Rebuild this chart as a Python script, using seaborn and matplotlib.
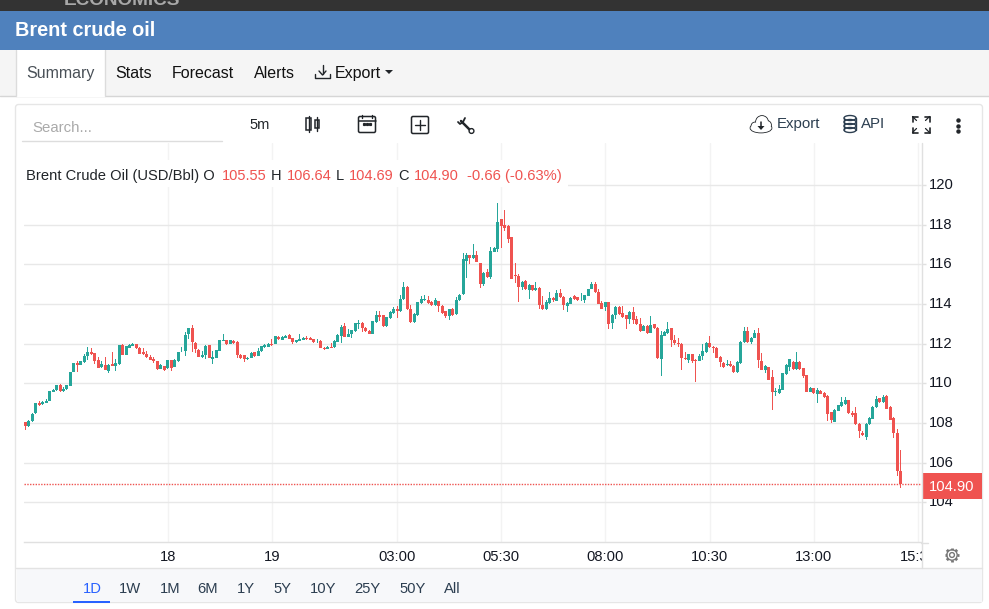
import matplotlib
matplotlib.use("Agg")
import matplotlib.pyplot as plt
import numpy as np
import pandas as pd
import seaborn as sns
from matplotlib.patches import Circle, FancyBboxPatch, Rectangle, Ellipse

# Brent crude 5 minute candles
opens = [108.05,107.86,108.07,108.49,109.00,108.93,109.00,109.10,109.57,109.65,
         109.89,109.60,109.70,109.86,110.57,111.04,110.92,111.07,111.37,111.56,
         111.51,111.16,110.82,110.90,110.60,110.95,110.87,110.95,111.95,111.43,
         111.78,111.88,112.00,111.80,111.56,111.46,111.31,111.20,111.10,110.73,
         110.85,110.75,111.15,110.82,111.12,111.63,111.63,112.47,112.78,112.05,
         111.70,111.31,111.43,111.92,111.22,111.27,111.63,112.15,112.17,111.98,
         112.15,112.10,111.44,111.41,111.20,111.27,111.56,111.37,111.63,111.83,
         111.85,111.98,111.98,112.33,112.18,112.28,112.43,112.27,112.08,112.15,
         112.18,112.27,112.28,112.22,112.13,112.12,111.80,111.73,111.85,111.82,
         112.08,112.38,112.87,112.33,112.47,112.62,113.00,113.02,112.80,112.65,
         112.48,113.08,113.42,113.42,112.90,113.27,113.53,113.77,113.63,114.23,
         114.87,113.77,113.08,113.42,114.03,114.22,114.20,114.12,113.93,114.15,
         113.92,113.62,113.38,113.72,113.47,114.18,114.48,116.17,116.47,116.32,
         116.47,116.07,115.03,115.62,115.37,116.63,116.78,118.27,117.97,117.93,
         117.37,115.47,115.42,114.83,115.17,114.72,114.95,114.68,114.82,113.95,
         113.72,114.03,114.32,114.17,114.55,114.37,113.88,114.02,114.40,114.35,
         114.18,114.18,114.42,114.75,115.03,114.62,114.05,113.83,114.10,113.02,
         113.45,113.83,113.52,113.42,113.23,113.57,113.22,113.01,112.64,112.91,
         112.55,112.99,112.81,111.21,112.40,112.52,112.77,112.20,112.05,112.00,
         111.28,111.19,111.48,111.19,111.13,111.36,111.56,112.05,111.85,111.80,
         111.33,111.03,110.91,110.99,110.89,110.57,111.01,112.07,112.61,112.07,
         112.29,112.55,111.14,110.67,110.82,110.29,109.55,109.50,109.66,110.45,
         110.82,111.09,110.70,111.09,110.77,110.40,109.56,109.75,109.45,109.63,
         109.53,109.38,108.54,108.04,108.62,108.83,108.94,109.13,108.52,108.51,
         107.95,107.50,107.30,107.92,108.20,108.78,109.26,109.03,109.36,108.81,
         108.27,107.50,105.55]
closes = [107.83,108.07,108.46,109.01,108.88,109.03,109.08,109.59,109.65,109.92,
          109.59,109.69,109.92,110.58,111.04,110.92,111.10,111.39,111.56,111.46,
          111.12,110.77,110.95,110.67,110.94,110.87,111.00,111.92,111.43,111.86,
          111.92,112.00,111.80,111.48,111.46,111.31,111.17,111.10,110.70,110.90,
          110.65,111.15,110.75,111.17,111.60,111.65,112.45,112.78,112.08,111.73,
          111.32,111.44,111.90,111.27,111.30,111.66,112.17,112.17,111.97,112.17,
          112.03,111.43,111.27,111.20,111.29,111.54,111.37,111.65,111.87,111.93,
          112.00,111.93,112.37,112.22,112.35,112.38,112.23,112.07,112.18,112.22,
          112.27,112.23,112.18,112.08,112.15,111.78,111.72,111.85,111.78,112.15,
          112.42,112.82,112.33,112.50,112.68,113.02,113.03,112.77,112.62,112.48,
          113.13,113.42,113.33,112.88,113.32,113.58,113.72,113.63,114.27,114.85,
          113.75,113.08,113.47,114.08,114.27,114.27,114.03,113.97,114.20,113.88,
          113.53,113.38,113.72,113.43,114.20,114.47,116.27,116.47,116.32,116.47,
          116.13,115.03,115.57,115.35,116.67,116.82,118.12,117.93,117.85,117.28,
          115.28,115.42,114.83,115.12,114.73,114.97,114.72,114.82,113.95,113.73,
          114.12,114.32,114.18,114.57,114.33,113.93,114.07,114.32,114.27,114.18,
          114.20,114.43,114.75,115.02,114.58,114.02,113.77,114.10,112.98,113.45,
          113.87,113.47,113.32,113.25,113.60,113.20,112.98,112.61,112.91,112.54,
          112.96,112.77,111.26,112.44,112.60,112.76,112.17,112.03,111.98,111.26,
          111.24,111.48,111.14,111.11,111.39,111.65,112.05,111.82,111.76,111.29,
          111.06,110.84,110.97,110.86,110.55,111.09,112.10,112.66,112.07,112.29,
          112.55,111.16,110.67,110.89,110.18,109.58,109.62,109.72,110.50,110.94,
          111.22,110.70,111.07,110.70,110.34,109.56,109.77,109.50,109.66,109.46,
          109.30,108.47,108.15,108.67,108.88,109.03,109.14,108.52,108.41,107.92,
          107.57,107.37,107.95,108.27,108.81,109.21,109.03,109.33,108.72,108.15,
          107.47,105.55,104.90]
highs = [108.05,108.12,108.49,109.01,109.08,109.10,109.18,109.59,109.70,109.92,
         109.95,109.79,109.92,110.58,111.04,111.10,111.10,111.46,111.81,111.76,
         111.53,111.30,111.14,111.30,110.96,111.56,111.20,111.92,111.97,111.88,
         111.97,112.02,112.00,111.82,111.76,111.63,111.41,111.31,111.12,110.95,
         110.87,111.17,111.17,111.20,111.60,111.85,112.60,112.80,112.93,112.07,
         111.75,111.65,111.92,111.95,111.65,111.68,112.19,112.47,112.20,112.20,
         112.20,112.12,111.46,111.44,111.34,111.56,111.58,111.76,111.90,111.97,
         112.03,112.22,112.39,112.38,112.37,112.45,112.47,112.29,112.20,112.47,
         112.32,112.37,112.33,112.25,112.22,112.20,111.85,111.87,112.05,112.17,
         112.50,112.92,113.02,112.75,112.70,113.03,113.17,113.08,112.82,112.67,
         113.15,113.65,113.65,113.44,113.34,113.65,113.83,113.90,114.47,115.10,
         114.89,113.95,113.55,114.10,114.42,114.47,114.42,114.14,114.30,114.17,
         113.94,113.64,113.74,113.82,114.35,114.49,116.55,116.58,116.49,117.02,
         116.67,116.09,115.59,115.75,116.85,116.88,119.07,118.29,118.72,117.97,
         117.39,116.08,115.50,115.14,115.22,114.99,114.97,115.12,114.84,114.38,
         114.18,114.62,114.34,114.72,114.77,114.39,114.09,114.35,114.47,114.37,
         114.55,114.45,114.77,115.13,115.12,114.75,114.15,114.12,114.12,113.47,
         113.89,113.88,113.92,113.44,113.62,113.87,113.38,113.29,112.93,112.93,
         113.41,113.01,112.83,112.61,112.62,113.11,112.79,112.44,112.29,112.02,
         111.56,111.50,111.50,111.21,111.46,111.98,112.07,112.37,111.87,111.85,
         111.35,111.05,111.19,111.13,110.91,111.11,112.12,112.85,112.85,112.31,
         112.71,112.77,111.55,110.91,110.84,110.66,109.78,109.93,110.52,110.96,
         111.24,111.14,111.58,111.14,110.79,110.42,109.83,109.77,109.75,109.65,
         109.58,109.40,108.56,108.69,108.90,109.33,109.33,109.15,108.62,108.81,
         107.97,107.57,107.97,108.29,108.83,109.36,109.28,109.41,109.41,108.83,
         108.29,107.68,106.64]
lows = [107.66,107.80,108.02,108.45,108.83,108.88,108.98,109.08,109.55,109.63,
        109.57,109.55,109.68,109.84,110.55,110.57,110.90,111.04,111.16,111.40,
        110.97,110.75,110.77,110.65,110.50,110.85,110.60,110.93,111.41,111.41,
        111.76,111.86,111.72,111.46,111.44,111.29,111.15,111.02,110.65,110.70,
        110.62,110.73,110.63,110.80,111.05,111.60,111.38,112.25,111.56,111.55,
        111.30,111.29,111.22,111.25,110.95,111.25,111.61,112.13,111.92,111.96,
        112.00,111.26,111.22,111.07,111.15,111.25,111.30,111.35,111.60,111.80,
        111.82,111.88,111.96,112.18,112.16,112.26,112.21,111.98,112.03,112.13,
        112.16,112.20,112.16,112.05,112.03,111.76,111.67,111.71,111.76,111.80,
        112.06,112.03,112.31,112.31,112.30,112.60,112.75,112.60,112.60,112.46,
        112.46,113.06,113.13,112.86,112.85,113.25,113.51,113.27,113.58,114.21,
        113.70,113.06,113.06,113.37,114.01,114.17,114.01,113.88,113.91,113.57,
        113.50,113.27,113.18,113.38,113.45,114.16,114.46,115.32,116.03,116.27,
        116.11,114.78,114.92,115.33,115.27,116.61,116.62,116.83,117.68,117.08,
        115.26,115.07,114.08,114.68,114.71,114.23,114.65,114.66,113.72,113.71,
        113.70,114.01,114.12,114.15,114.31,113.67,113.58,114.00,114.20,114.16,
        114.16,114.07,114.40,114.73,114.56,114.00,113.73,113.63,112.72,112.72,
        113.25,113.45,113.30,112.72,112.98,113.00,112.96,112.59,112.62,112.50,
        112.53,112.74,111.24,110.35,112.38,112.50,111.85,111.95,111.82,110.69,
        111.19,111.00,111.00,110.08,111.11,111.19,111.54,111.80,111.53,111.27,
        110.84,110.79,110.89,110.84,110.53,110.52,110.99,112.05,112.05,112.00,
        112.27,110.75,110.65,110.52,110.16,108.64,109.36,109.48,109.64,110.43,
        110.64,110.68,110.68,110.68,110.27,109.54,109.54,109.48,108.98,109.44,
        109.28,108.10,107.98,108.02,108.60,108.81,108.92,108.45,108.32,107.90,
        107.22,107.35,107.12,107.90,108.18,108.76,109.01,109.01,108.70,108.13,
        107.22,105.30,104.69]

price_ticks = [104, 106, 108, 110, 112, 114, 116, 118, 120]
time_ticks = [41, 71, 107, 137, 167, 197, 227, 257]
time_labels = ["18", "19", "03:00", "05:30", "08:00", "10:30", "13:00", "15:30"]
range_labels = ["1D", "1W", "1M", "6M", "1Y", "5Y", "10Y", "25Y", "50Y", "All"]

UP = "#26a69a"
DOWN = "#ef5350"
INK = "#212529"

sns.set_theme(style="white")
plt.rcParams["font.family"] = ["Liberation Sans", "DejaVu Sans"]

W, H = 989, 609
fig = plt.figure(figsize=(W / 100, H / 100), dpi=100, facecolor="white")


def pixel_axes(zorder):
    # full figure axes that work in screen pixels, for the page furniture
    a = fig.add_axes([0, 0, 1, 1], zorder=zorder)
    a.set_xlim(0, W)
    a.set_ylim(H, 0)
    a.axis("off")
    a.patch.set_alpha(0)
    return a


bg = pixel_axes(0)
fg = pixel_axes(2)

# page header and tabs
bg.add_patch(Rectangle((0, 0), W, 11, color="#333333", lw=0))
bg.text(64, 5, "ECONOMICS", color="#a8a8a8", fontsize=13.7, fontweight="bold", va="baseline", clip_on=True)
bg.add_patch(Rectangle((0, 50), W, 46, color="#f5f5f5", lw=0))
bg.plot([0, W], [95.5, 95.5], color="#d6d6d6", lw=1)
bg.add_patch(Rectangle((15.5, 50), 89, 46.5, facecolor="white", lw=0, zorder=2))
bg.plot([15.5, 15.5], [50, 96], color="#dcdcdc", lw=1, zorder=3)
bg.plot([104.5, 104.5], [50, 96], color="#dcdcdc", lw=1, zorder=3)
bg.add_patch(Rectangle((0, 11), W, 39, color="#4f81bd", lw=0, zorder=4))
bg.text(15, 31, "Brent crude oil", color="white", fontsize=14.3, fontweight="bold", va="center", zorder=5)
bg.text(26, 73.5, "Summary", color="#495057", fontsize=11.5, va="center", zorder=3)
for label, px in [("Stats", 115), ("Forecast", 172), ("Alerts", 254), ("Export", 335)]:
    bg.text(px, 73.5, label, color="#111111", fontsize=11.5, va="center")
# download icon and caret
bg.plot([322.5, 322.5], [65, 74], color=INK, lw=1)
bg.plot([319, 322.5, 326], [71, 75, 71], color=INK, lw=1)
bg.plot([315, 315, 330, 330], [74, 78, 78, 74], color=INK, lw=1)
bg.fill([385, 393, 389], [70, 70, 74], color=INK, lw=0)

# chart card
bg.add_patch(FancyBboxPatch((15.5, 104.5), 967, 498, boxstyle="round,pad=0,rounding_size=3",
                            facecolor="white", edgecolor="#e6e6e6", lw=1))
bg.add_patch(Rectangle((16.5, 568), 965, 34, color="#f7f8fa", lw=0, zorder=2))
bg.plot([16, 982], [568, 568], color="#e3e3e3", lw=1, zorder=3)

# toolbar
bg.text(32, 128, "Search...", color="#aaaaaa", fontsize=10.8, va="center")
bg.plot([22, 222], [140.5, 140.5], color="#dddddd", lw=1)
bg.text(249, 125, "5m", color=INK, fontsize=10.5, va="center")
# candle icon
bg.add_patch(Rectangle((306, 118), 5, 12, fill=False, ec=INK, lw=1.1))
bg.add_patch(Rectangle((314.5, 120), 4, 8, fill=False, ec=INK, lw=1.1))
bg.plot([308.5, 308.5], [116, 132], color=INK, lw=1)
bg.plot([316.5, 316.5], [117, 131], color=INK, lw=1)
# calendar icon
bg.add_patch(FancyBboxPatch((358.5, 116.5), 17, 16, boxstyle="round,pad=0,rounding_size=1.5", fill=False, ec=INK, lw=1.1))
bg.plot([358.5, 375.5], [120.5, 120.5], color=INK, lw=1.1)
bg.plot([362, 362], [114.5, 118], color=INK, lw=1)
bg.plot([372, 372], [114.5, 118], color=INK, lw=1)
bg.plot([364, 367, 370], [124, 124, 124], ls="none", marker="s", ms=1.3, color=INK)
# plus box icon
bg.add_patch(FancyBboxPatch((411.5, 116.5), 17, 17, boxstyle="round,pad=0,rounding_size=1.5", fill=False, ec=INK, lw=1.1))
bg.plot([415, 425], [125, 125], color=INK, lw=1)
bg.plot([420, 420], [120, 130], color=INK, lw=1)
# wrench icon
bg.plot([461, 471], [121, 131], color=INK, lw=1.8, solid_capstyle="round")
bg.plot([458, 460, 463, 465], [122, 124, 122, 118], color=INK, lw=1.3)
bg.add_patch(Circle((471.5, 131), 2.4, facecolor="white", ec=INK, lw=1, zorder=3))
# cloud export icon, outline first then the white fill on top
cloud_parts = [((761, 128), 21, 9), ((762, 122), 12, 12), ((755, 126), 7, 7), ((767, 125), 8, 8)]
for centre, w, h in cloud_parts:
    bg.add_patch(Ellipse(centre, w, h, facecolor=INK, ec=INK, lw=1.2, zorder=3))
for centre, w, h in cloud_parts:
    bg.add_patch(Ellipse(centre, w, h, facecolor="white", lw=0, zorder=4))
bg.plot([761, 761], [122, 127], color=INK, lw=1.1, zorder=5)
bg.fill([757.5, 764.5, 761], [126, 126, 130], color=INK, lw=0, zorder=5)
bg.text(777, 124, "Export", color="#2c3e50", fontsize=10.8, va="center")
# database icon
for py in [118, 122, 126, 130]:
    bg.add_patch(Ellipse((850, py), 12, 5, fill=False, ec="#2c3e50", lw=1))
bg.plot([844, 844], [118, 130], color="#2c3e50", lw=1)
bg.plot([856, 856], [118, 130], color="#2c3e50", lw=1)
bg.text(861, 124, "API", color="#2c3e50", fontsize=10.8, va="center")
# fullscreen icon
for dx, dy in [(-1, -1), (1, -1), (-1, 1), (1, 1)]:
    cx, cy = 921 + dx * 8.5, 124.5 + dy * 8
    bg.plot([cx, cx - dx * 5], [cy, cy], color=INK, lw=1.2)
    bg.plot([cx, cx], [cy, cy - dy * 5], color=INK, lw=1.2)
    bg.plot([cx, cx - dx * 4], [cy, cy - dy * 4], color=INK, lw=0.9)
bg.plot([958, 958, 958], [120, 125.5, 131], ls="none", marker="o", ms=2.2, color=INK)

# candle chart
candles = pd.DataFrame({"open": opens, "high": highs, "low": lows, "close": closes})
candles["slot"] = range(len(candles))
candles["body_low"] = candles[["open", "close"]].min(axis=1)
candles["body"] = (candles["open"] - candles["close"]).abs()
candles["wick"] = candles["high"] - candles["low"]
candles["rising"] = candles["close"] >= candles["open"]

ax = fig.add_axes([24 / W, 1 - 542 / H, 897 / W, 399 / H], zorder=1)
ax.patch.set_alpha(0)

x_range = (-0.37, 257.83)
# whole pixel widths so the snapped wick stays centred on a 3 px body
slot_px = 897 / (x_range[1] - x_range[0])
for rising, colour in [(True, UP), (False, DOWN)]:
    part = candles[candles["rising"] == rising]
    sns.barplot(data=part, x="slot", y="wick", bottom=part["low"].to_numpy(), native_scale=True,
                width=1 / slot_px, color=colour, saturation=1, errorbar=None, linewidth=0, ax=ax, zorder=3)
    sns.barplot(data=part, x="slot", y="body", bottom=part["body_low"].to_numpy(), native_scale=True,
                width=3 / slot_px, color=colour, saturation=1, errorbar=None, linewidth=0, ax=ax, zorder=3)

# last close as a dotted level
ax.axhline(closes[-1], color=DOWN, lw=1, ls=(0, (1, 1)), zorder=4)

ax.set_xlim(*x_range)
ax.set_ylim(101.99, 122.12)
ax.set_xlabel("")
ax.set_ylabel("")
ax.set_xticks(time_ticks, time_labels)
ax.set_yticks(price_ticks)
ax.yaxis.tick_right()
ax.tick_params(axis="x", length=0, pad=6, labelsize=10.6, labelcolor="#131722")
ax.tick_params(axis="y", length=3.6, width=1, color="#e0e0e0", pad=2, labelsize=10.6, labelcolor="#131722", right=True, left=False)
for label in ax.get_yticklabels():
    label.set_verticalalignment("center")
ax.xaxis.grid(True, color="#f3f3f3", lw=1)
ax.yaxis.grid(True, color="#e8e8e8", lw=1)
ax.set_axisbelow(True)
for side in ["top", "left", "right"]:
    ax.spines[side].set_visible(False)
ax.spines["bottom"].set_color("#e0e0e0")
ax.spines["bottom"].set_linewidth(1)

# legend strip over the grid
fg.add_patch(Rectangle((24, 160), 544, 27, color="white", lw=0))
legend_bits = [("Brent Crude Oil (USD/Bbl) O", 26, INK, 10.65), ("105.55", 222, DOWN, 10.5), ("H", 271, INK, 10.5),
               ("106.64", 287, DOWN, 10.5), ("L", 336, INK, 10.5), ("104.69", 349, DOWN, 10.5), ("C", 398, INK, 10.5),
               ("104.90", 414, DOWN, 10.5), ("-0.66 (-0.63%)", 467, DOWN, 10.65)]
for text, px, colour, size in legend_bits:
    fg.text(px, 176, text, color=colour, fontsize=size, va="center")

# right hand scale edge, clip of the last time label, gear and price tag
fg.add_patch(Rectangle((921.5, 544), 40, 22, color="white", lw=0))
fg.plot([921.5, 921.5], [143, 568], color="#e0e0e0", lw=1)
fg.plot([921, 928], [542.5, 542.5], color="#e0e0e0", lw=1)
for angle in np.arange(0, 2 * np.pi, np.pi / 4):
    fg.plot([952 + 5 * np.cos(angle), 952 + 7.3 * np.cos(angle)], [555 + 5 * np.sin(angle), 555 + 7.3 * np.sin(angle)],
            color="#777777", lw=2, solid_capstyle="butt")
fg.add_patch(Circle((952, 555), 5.2, fill=False, ec="#777777", lw=1))
fg.add_patch(Circle((952, 555), 2.4, fill=False, ec="#777777", lw=1))
fg.add_patch(Rectangle((922, 473), 60, 26, color=DOWN, lw=0))
fg.text(952, 487, f"{closes[-1]:.2f}", color="white", fontsize=10.6, ha="center", va="center")

# range selector
for label, px in zip(range_labels, [92, 130, 170, 208, 246, 282, 323, 367, 413, 452]):
    fg.text(px, 589, label, color="#2962ff" if label == "1D" else "#2c3e50", fontsize=10.6, ha="center", va="center")
fg.add_patch(Rectangle((73, 601), 37, 2, color="#2962ff", lw=0))

fig.savefig("out.png", dpi=100)
